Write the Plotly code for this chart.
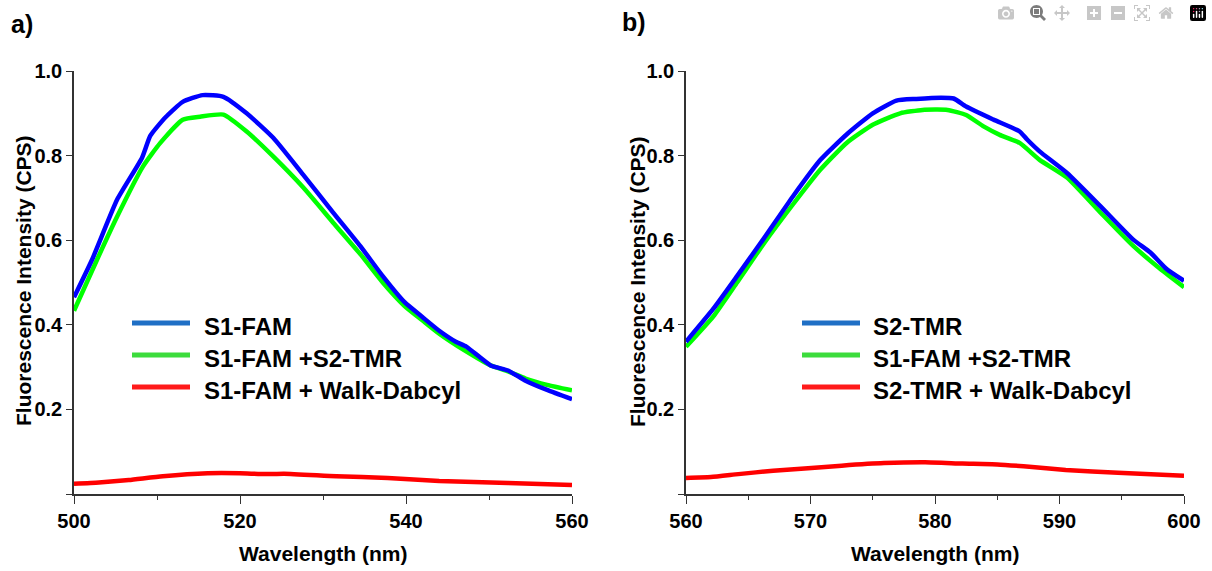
import plotly.graph_objects as go

W, H = 1212, 571

# ---------------- data ----------------
names_a = ["S1-FAM", "S1-FAM +S2-TMR", "S1-FAM + Walk-Dabcyl"]
names_b = ["S2-TMR", "S1-FAM +S2-TMR", "S2-TMR + Walk-Dabcyl"]

a_blue_x = [500, 502.2, 505.2, 508.2, 509.2, 511.0, 513.1, 515.5, 518.0, 520.8, 524.0, 527.6,
            531.2, 534.5, 537.2, 539.8, 542.0, 544.0, 546.0, 547.3, 550.2, 552.3, 554.4, 557.0, 560]
a_blue_y = [0.465, 0.555, 0.696, 0.795, 0.847, 0.890, 0.927, 0.943, 0.939, 0.900, 0.842, 0.755,
            0.666, 0.586, 0.515, 0.454, 0.418, 0.386, 0.360, 0.348, 0.304, 0.292, 0.268, 0.246, 0.224]

a_green_x = [500, 502.8, 505.2, 508.3, 510.4, 513.1, 515.2, 518.0, 520.8, 524.0, 527.6, 531.2,
             534.5, 537.2, 539.8, 542.0, 544.0, 547.0, 550.2, 552.3, 554.4, 557.0, 560]
a_green_y = [0.433, 0.555, 0.656, 0.774, 0.830, 0.885, 0.892, 0.897, 0.857, 0.798, 0.725, 0.642,
             0.567, 0.500, 0.445, 0.410, 0.379, 0.340, 0.304, 0.290, 0.273, 0.258, 0.245]

a_red_x = [500, 503.0, 506.6, 510.7, 516.1, 520.0, 523.0, 525.3, 531.6, 537.8, 544.0, 552.3, 560]
a_red_y = [0.024, 0.027, 0.033, 0.042, 0.049, 0.049, 0.047, 0.048, 0.042, 0.038, 0.031, 0.026, 0.021]

b_blue_x = [560, 562.2, 564.1, 566.2, 568.6, 570.8, 572.9, 575.0, 576.9, 578.5, 580.5, 581.5,
            582.5, 584.7, 586.8, 587.4, 588.4, 590.6, 593.3, 595.9, 597.3, 598.6, 600]
b_blue_y = [0.360, 0.438, 0.515, 0.602, 0.704, 0.790, 0.850, 0.900, 0.930, 0.934, 0.937, 0.935,
            0.916, 0.885, 0.857, 0.838, 0.810, 0.759, 0.680, 0.602, 0.571, 0.532, 0.504]

b_green_x = [560, 562.2, 564.1, 566.2, 568.6, 570.8, 572.9, 575.0, 577.2, 579.0, 581.0, 582.5,
             583.9, 585.2, 586.8, 588.4, 590.6, 593.3, 595.9, 598.1, 600]
b_green_y = [0.348, 0.420, 0.500, 0.590, 0.685, 0.767, 0.830, 0.873, 0.900, 0.908, 0.908, 0.896,
             0.869, 0.849, 0.830, 0.790, 0.748, 0.665, 0.587, 0.532, 0.489]

b_red_x = [560, 562.0, 564.2, 567.0, 569.8, 572.5, 575.9, 579.2, 582.2, 585.0, 587.8, 590.5, 594.7, 600]
b_red_y = [0.038, 0.040, 0.047, 0.055, 0.061, 0.067, 0.073, 0.075, 0.072, 0.070, 0.064, 0.057, 0.050, 0.043]

y_ticks = [0.0, 0.2, 0.4, 0.6, 0.8, 1.0]
y_ticktext = ["", "0.2", "0.4", "0.6", "0.8", "1.0"]
a_xticks = [500, 520, 540, 560]
b_xticks = [560, 570, 580, 590, 600]

line_colors = ["#0000FF", "#00FF00", "#FF0000"]
legend_colors = ["#1F6FC5", "#3CDC3C", "#FF1A1A"]

# ---------------- figure ----------------
def px(x):
    return x / W

def py(y):
    return 1 - y / H

FONT = "Liberation Sans"
AX = "#333333"
fig = go.Figure()

series_a = [(a_blue_x, a_blue_y), (a_green_x, a_green_y), (a_red_x, a_red_y)]
series_b = [(b_blue_x, b_blue_y), (b_green_x, b_green_y), (b_red_x, b_red_y)]
for order in [2, 1, 0]:
    xs, ys = series_a[order]
    fig.add_trace(go.Scatter(x=xs, y=ys, mode="lines", name=names_a[order], showlegend=False,
                             line=dict(color=line_colors[order], width=4.5, shape="spline", smoothing=0.5),
                             xaxis="x", yaxis="y"))
for order in [2, 1, 0]:
    xs, ys = series_b[order]
    fig.add_trace(go.Scatter(x=xs, y=ys, mode="lines", name=names_b[order], showlegend=False,
                             line=dict(color=line_colors[order], width=4.5, shape="spline", smoothing=0.5),
                             xaxis="x2", yaxis="y2"))

ydom = [py(494), py(71)]
tickfont = dict(family=FONT, size=20, color="black", weight="bold")
axis_common = dict(showline=True, linecolor=AX, linewidth=1.5, showgrid=False, zeroline=False,
                   ticks="outside", tickwidth=1.3, tickcolor=AX, tickfont=tickfont, automargin=False)

fig.update_layout(
    template="none",
    width=W, height=H, margin=dict(l=0, r=0, t=0, b=0),
    paper_bgcolor="white", plot_bgcolor="white", showlegend=False,
    xaxis=dict(domain=[px(74), px(572)], range=[500, 560], tickvals=a_xticks, ticklen=8,
               minor=dict(dtick=10, ticks="outside", ticklen=4, tickcolor=AX, tickwidth=1.3),
               anchor="y", **axis_common),
    yaxis=dict(domain=ydom, range=[0.0, 1.0], tickvals=y_ticks, ticktext=y_ticktext, ticklen=6,
               anchor="x", **axis_common),
    xaxis2=dict(domain=[px(686), px(1184)], range=[560, 600], tickvals=b_xticks, ticklen=8,
                minor=dict(dtick=5, ticks="outside", ticklen=4, tickcolor=AX, tickwidth=1.3),
                anchor="y2", **axis_common),
    yaxis2=dict(domain=ydom, range=[0.0, 1.0], tickvals=y_ticks, ticktext=y_ticktext, ticklen=6,
                anchor="x2", **axis_common),
)

ann = []
tfont = dict(family=FONT, size=21, color="black", weight="bold")
for cx, ycx in [(323, 23), (935, 637)]:
    ann.append(dict(x=px(cx), y=py(553), xref="paper", yref="paper", text="Wavelength (nm)",
                    showarrow=False, font=tfont, xanchor="center", yanchor="middle"))
    ann.append(dict(x=px(ycx), y=py(281), xref="paper", yref="paper",
                    text="Fluorescence Intensity (CPS)", textangle=-90,
                    showarrow=False, font=tfont, xanchor="center", yanchor="middle"))
for lab, lx, ly in [("a)", 22, 24), ("b)", 634, 22)]:
    ann.append(dict(x=px(lx), y=py(ly), xref="paper", yref="paper", text=lab, showarrow=False,
                    font=dict(family=FONT, size=25, color="black", weight="bold"),
                    xanchor="center", yanchor="middle"))

shapes = []
rows = [323, 355, 387]
for names, x0, x1, tx in [(names_a, 132, 190, 202), (names_b, 802, 860, 871)]:
    for i, nm in enumerate(names):
        yy = rows[i]
        shapes.append(dict(type="line", xref="paper", yref="paper", x0=px(x0), x1=px(x1),
                           y0=py(yy), y1=py(yy), line=dict(color=legend_colors[i], width=5)))
        ann.append(dict(x=px(tx), y=py(yy + 3), xref="paper", yref="paper", text=nm, showarrow=False,
                        font=dict(family=FONT, size=24, color="black", weight="bold"),
                        xanchor="left", yanchor="middle"))

fig.update_layout(annotations=ann, shapes=shapes)

fig.write_html("out.html", post_script="document.body.style.margin='0';document.body.style.overflow='hidden';")
